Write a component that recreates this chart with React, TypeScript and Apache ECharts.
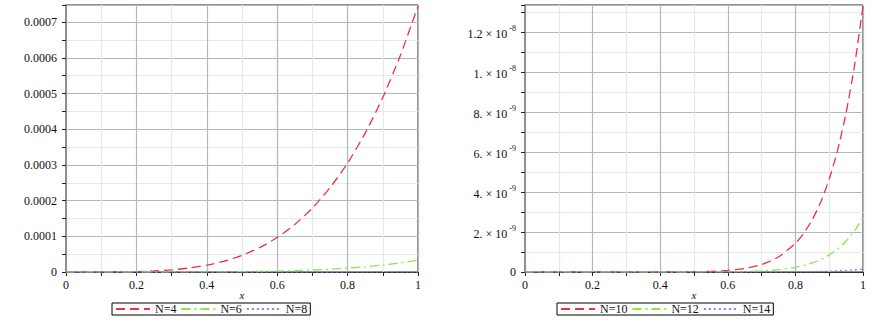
import React, { useEffect, useRef } from "react";
import * as echarts from "echarts";

// ---------- data ----------
const xLeft = [0, 0.05, 0.1, 0.15, 0.2, 0.25, 0.3, 0.35, 0.4, 0.45, 0.5, 0.55, 0.6, 0.65, 0.7, 0.75, 0.8, 0.85, 0.9, 0.95, 1];
const n4 = [0, 4.7e-9, 7.5e-8, 3.8e-7, 1.19e-6, 2.91e-6, 6.03e-6, 1.12e-5, 1.91e-5, 3.06e-5, 4.66e-5, 6.82e-5, 9.66e-5, 1.33e-4, 1.79e-4, 2.36e-4, 3.05e-4, 3.89e-4, 4.89e-4, 6.07e-4, 7.45e-4];
const n6 = [0, 0, 3.3e-10, 2.5e-9, 1.06e-8, 3.2e-8, 8e-8, 1.74e-7, 3.4e-7, 6.1e-7, 1.03e-6, 1.66e-6, 2.57e-6, 3.83e-6, 5.55e-6, 7.83e-6, 1.08e-5, 1.46e-5, 1.95e-5, 2.55e-5, 3.3e-5];
const n8 = [0, 0, 0, 0, 0, 0, 0, 0, 0, 0, 1e-9, 3e-9, 6e-9, 1.2e-8, 2.2e-8, 4e-8, 7e-8, 1.2e-7, 2e-7, 3.2e-7, 5e-7];

const xRight = [0, 0.1, 0.2, 0.3, 0.4, 0.5, 0.55, 0.6, 0.65, 0.7, 0.75, 0.8, 0.825, 0.85, 0.875, 0.9, 0.925, 0.95, 0.975, 1];
const n10 = [0, 0, 0, 0, 1.4e-12, 1.3e-11, 3.4e-11, 8.0e-11, 1.79e-10, 3.75e-10, 7.49e-10, 1.43e-9, 1.94e-9, 2.62e-9, 3.5e-9, 4.64e-9, 6.1e-9, 7.96e-9, 1.032e-8, 1.33e-8];
const n12 = [0, 0, 0, 0, 0, 1.3e-12, 3.7e-12, 9.9e-12, 2.4e-11, 5.4e-11, 1.15e-10, 2.34e-10, 3.28e-10, 4.55e-10, 6.26e-10, 8.54e-10, 1.154e-9, 1.547e-9, 2.06e-9, 2.72e-9];
const n14 = [0, 0, 0, 0, 0, 0, 0, 0, 1e-12, 2e-12, 4.8e-12, 1.03e-11, 1.49e-11, 2.1e-11, 3.0e-11, 4.2e-11, 5.9e-11, 8.1e-11, 1.11e-10, 1.5e-10];

const xTicks = [0, 0.2, 0.4, 0.6, 0.8, 1];
const leftNames = ["N=4", "N=6", "N=8"];
const rightNames = ["N=10", "N=12", "N=14"];

const RED = "#f0303f";
const GREEN = "#8fe84a";
const BLUE = "#7f86ff";
const SERIF = "'Liberation Serif', 'DejaVu Serif', serif";

const pairs = (xs: number[], ys: number[]) => xs.map((x, i) => [x, ys[i]]);

export default function App() {
  const ref = useRef<HTMLDivElement>(null);
  useEffect(() => {
    if (!ref.current) return;
    const chart = echarts.init(ref.current, null, { renderer: "svg" });

    const xAxisCommon = (gridIndex: number) => ({
      type: "value" as const,
      gridIndex,
      min: 0,
      max: 1,
      interval: 0.2,
      name: "x",
      nameLocation: "middle" as const,
      nameGap: 17,
      nameMoveOverlap: false,
      nameTextStyle: { fontFamily: SERIF, fontStyle: "italic" as const, fontSize: 11, lineHeight: 11, color: "#111" },
      axisLine: { show: true, onZero: false, lineStyle: { color: "#333", width: 1 } },
      axisTick: { show: true, length: 4, lineStyle: { color: "#222" } },
      minorTick: { show: true, splitNumber: 2, length: 4, lineStyle: { color: "#222" } },
      splitLine: { show: true, lineStyle: { color: "#aeb9bd", width: 1.2 } },
      minorSplitLine: { show: true, lineStyle: { color: "#e3eaea", width: 1.2 } },
      axisLabel: {
        fontFamily: SERIF,
        fontSize: 12,
        color: "#111",
        margin: 7,
        formatter: (v: number) => {
          const t = xTicks.find((k) => Math.abs(k - v) < 1e-9);
          return t === undefined ? "" : String(t);
        },
      },
    });

    const yAxisCommon = (gridIndex: number, max: number, interval: number) => ({
      type: "value" as const,
      gridIndex,
      min: 0,
      max,
      interval,
      offset: 4,
      axisLine: { show: true, lineStyle: { color: "#8a9296", width: 2 } },
      axisTick: { show: true, length: 4, lineStyle: { color: "#222" } },
      minorTick: { show: true, splitNumber: 2, length: 4, lineStyle: { color: "#222" } },
      splitLine: { show: true, lineStyle: { color: "#aeb9bd", width: 1.2 } },
      minorSplitLine: { show: true, lineStyle: { color: "#e3eaea", width: 1.2 } },
    });

    const lineSeries = (name: string, data: number[][], color: string, dash: number[], idx: number) => ({
      type: "line" as const,
      name,
      xAxisIndex: idx,
      yAxisIndex: idx,
      data,
      showSymbol: false,
      symbol: "none",
      smooth: 0.2,
      lineStyle: { color, width: 1.3, type: dash },
      itemStyle: { color },
    });

    const legendCommon = {
      orient: "horizontal" as const,
      top: 303,
      itemWidth: 34,
      itemHeight: 10,
      itemGap: 4,
      borderColor: "#000",
      borderWidth: 1,
      padding: [0, 3, 0, 3],
      itemStyle: { opacity: 0 },
      textStyle: { fontFamily: SERIF, fontSize: 12, lineHeight: 12, color: "#111" },
    };

    chart.setOption({
      animation: false,
      backgroundColor: "#fff",
      grid: [
        { left: 66, right: 454, top: 5, bottom: 55, show: true, borderColor: "#222", borderWidth: 1, backgroundColor: "transparent" },
        { left: 525, right: 9, top: 5, bottom: 55, show: true, borderColor: "#222", borderWidth: 1, backgroundColor: "transparent" },
      ],
      xAxis: [xAxisCommon(0), xAxisCommon(1)],
      yAxis: [
        {
          ...yAxisCommon(0, 0.000748, 0.0001),
          axisLabel: {
            showMaxLabel: false,
            fontFamily: SERIF,
            fontSize: 12,
            color: "#111",
            margin: 5,
            formatter: (v: number) => (Math.abs(v) < 1e-12 ? "0" : v.toFixed(4)),
          },
        },
        {
          ...yAxisCommon(1, 1.335e-8, 2e-9),
          axisLabel: {
            showMaxLabel: false,
            fontFamily: SERIF,
            fontSize: 12,
            color: "#111",
            margin: 5,
            formatter: (v: number) => {
              const k = Math.round(v / 1e-9);
              if (k === 0) return "0";
              if (k < 10) return `{m|${k}. × 10}{e|-9}`;
              const m = k / 10;
              return `{m|${m === 1 ? "1." : String(m)} × 10}{e|-8}`;
            },
            rich: {
              m: { fontFamily: SERIF, fontSize: 12, color: "#111", lineHeight: 16, verticalAlign: "bottom" },
              e: { fontFamily: SERIF, fontSize: 8, color: "#111", lineHeight: 16, verticalAlign: "top", padding: [0, 0, 0, 2] },
            },
          },
        },
      ],
      legend: [
        { ...legendCommon, left: 112, data: leftNames },
        { ...legendCommon, left: 557, data: rightNames },
      ],
      series: [
        lineSeries(leftNames[0], pairs(xLeft, n4), RED, [9, 5], 0),
        lineSeries(leftNames[1], pairs(xLeft, n6), GREEN, [9, 4, 2, 4], 0),
        lineSeries(leftNames[2], pairs(xLeft, n8), BLUE, [2, 3], 0),
        lineSeries(rightNames[0], pairs(xRight, n10), RED, [9, 5], 1),
        lineSeries(rightNames[1], pairs(xRight, n12), GREEN, [9, 4, 2, 4], 1),
        lineSeries(rightNames[2], pairs(xRight, n14), BLUE, [2, 3], 1),
      ],
    });
    return () => chart.dispose();
  }, []);
  return <div ref={ref} style={{ position: "fixed", left: 0, top: 0, width: 872, height: 327 }} />;
}
